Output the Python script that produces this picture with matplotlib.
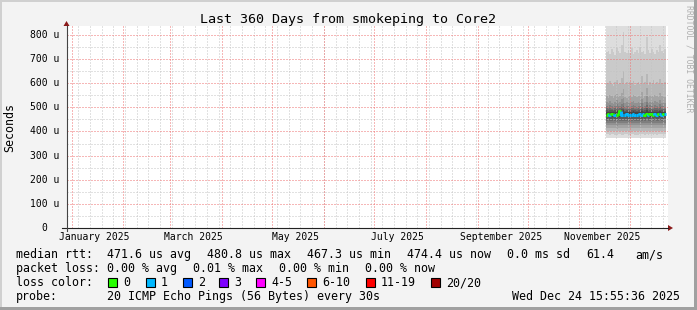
import matplotlib
matplotlib.use("Agg")
import matplotlib.pyplot as plt
import matplotlib.dates as mdates
from matplotlib.patches import Rectangle, Polygon
from matplotlib.lines import Line2D
from datetime import datetime, timedelta
import pandas as pd

plt.rcParams['font.family'] = 'DejaVu Sans Mono'

W, H = 697, 310

# time window of the graph
end = datetime(2025, 12, 24, 15, 55, 36)
start = end - timedelta(days=360)
smoke_start = datetime(2025, 11, 17, 12)

# daily medians (microseconds) and loss class per day
median = [470, 472, 469, 471, 473, 470, 468, 474, 484, 470, 469, 470, 471, 470, 469, 470, 471, 470,
          470, 469, 471, 470, 472, 470, 473, 469, 471, 474, 470, 472, 469, 471, 473, 470, 472, 474]
loss = [0, 0, 1, 0, 0, 1, 0, 0, 0, 1, 1, 1, 1, 1, 1, 1, 1, 1,
        1, 1, 1, 1, 1, 0, 0, 1, 0, 0, 0, 1, 1, 0, 1, 1, 0, 1]

# sorted ping ranks per day (microseconds), ping_1 = fastest, ping_20 = slowest
ping_20 = [905, 930, 898, 950, 912, 887, 940, 921, 899, 960, 975, 915, 903, 938, 909, 926, 890, 944,
           917, 902, 933, 969, 896, 921, 985, 907, 928, 913, 936, 899, 921, 908, 954, 915, 903, 940]
ping_19 = [728, 735, 722, 741, 730, 718, 745, 733, 726, 760, 812, 730, 724, 739, 727, 744, 720, 731,
           736, 725, 748, 729, 733, 721, 790, 738, 727, 742, 731, 719, 736, 728, 760, 733, 724, 740]
ping_18 = [602, 595, 610, 598, 588, 604, 615, 597, 600, 620, 650, 596, 603, 592, 606, 599, 611, 594,
           601, 607, 598, 630, 596, 604, 640, 593, 605, 600, 612, 597, 603, 595, 618, 601, 599, 606]
ping_17 = [548, 540, 552, 545, 538, 550, 556, 542, 547, 560, 575, 544, 539, 551, 546, 541, 553, 548,
           543, 549, 545, 565, 540, 547, 580, 544, 550, 546, 541, 553, 547, 542, 558, 545, 549, 544]
ping_16 = [522, 518, 526, 520, 515, 524, 530, 519, 521, 533, 540, 517, 522, 525, 519, 521, 527, 520,
           518, 523, 520, 535, 516, 522, 545, 519, 524, 521, 517, 526, 522, 518, 531, 520, 523, 519]
ping_15 = [506, 503, 509, 505, 500, 507, 512, 504, 506, 514, 520, 502, 505, 508, 503, 506, 510, 504,
           503, 507, 505, 516, 501, 506, 522, 503, 508, 505, 502, 509, 506, 503, 513, 505, 507, 503]
ping_14 = [496, 494, 498, 495, 491, 497, 500, 494, 496, 502, 506, 493, 495, 497, 494, 496, 499, 495,
           493, 497, 495, 503, 492, 496, 508, 494, 497, 495, 493, 498, 496, 494, 501, 495, 497, 494]
ping_13 = [488, 486, 489, 487, 484, 488, 491, 486, 490, 492, 495, 485, 487, 488, 486, 487, 490, 487,
           485, 488, 487, 493, 484, 488, 497, 486, 488, 487, 485, 489, 487, 486, 491, 487, 488, 486]
ping_12 = [481, 480, 482, 481, 479, 482, 484, 480, 485, 485, 487, 479, 481, 482, 480, 481, 483, 481,
           480, 482, 481, 485, 479, 482, 488, 480, 482, 481, 480, 482, 481, 480, 484, 481, 482, 480]
ping_11 = [474, 476, 473, 475, 477, 474, 472, 478, 478, 474, 473, 474, 475, 474, 473, 474, 475, 474,
           474, 473, 475, 474, 476, 474, 477, 473, 475, 478, 474, 476, 473, 475, 477, 474, 476, 478]
ping_10 = [467, 469, 466, 468, 470, 467, 465, 471, 470, 467, 466, 467, 468, 467, 466, 467, 468, 467,
           467, 466, 468, 467, 469, 467, 470, 466, 468, 471, 467, 469, 466, 468, 470, 467, 469, 471]
ping_9 = [461, 462, 460, 461, 463, 460, 459, 463, 461, 461, 460, 461, 461, 460, 460, 461, 462, 461,
          460, 460, 461, 461, 462, 461, 462, 460, 461, 463, 461, 462, 460, 461, 462, 461, 462, 463]
ping_8 = [453, 454, 452, 453, 454, 452, 451, 455, 453, 452, 452, 453, 453, 452, 452, 453, 453, 452,
          452, 452, 453, 453, 454, 452, 454, 452, 453, 455, 452, 454, 452, 453, 454, 453, 453, 455]
ping_7 = [445, 446, 444, 445, 447, 444, 443, 447, 445, 445, 444, 445, 445, 444, 444, 445, 446, 445,
          444, 444, 445, 445, 446, 445, 446, 444, 445, 447, 445, 446, 444, 445, 446, 445, 446, 447]
ping_6 = [436, 437, 435, 436, 437, 435, 434, 437, 436, 435, 435, 436, 436, 435, 435, 436, 436, 435,
          435, 435, 436, 436, 437, 435, 437, 435, 436, 437, 435, 437, 435, 436, 437, 436, 436, 437]
ping_5 = [426, 427, 425, 426, 427, 425, 424, 427, 426, 425, 425, 426, 426, 425, 425, 426, 426, 425,
          425, 425, 426, 426, 427, 425, 427, 425, 426, 427, 425, 427, 425, 426, 427, 426, 426, 427]
ping_4 = [414, 415, 413, 414, 415, 413, 412, 415, 414, 413, 413, 414, 414, 413, 413, 414, 414, 413,
          413, 413, 414, 414, 415, 413, 415, 413, 414, 415, 413, 415, 413, 414, 415, 414, 414, 415]
ping_3 = [402, 403, 401, 402, 403, 401, 400, 403, 402, 401, 401, 402, 402, 401, 401, 402, 402, 401,
          401, 401, 402, 402, 403, 401, 403, 401, 402, 403, 401, 403, 401, 402, 403, 402, 402, 403]
ping_2 = [388, 389, 387, 388, 389, 387, 386, 389, 388, 387, 387, 388, 388, 387, 387, 388, 388, 387,
          387, 387, 388, 388, 389, 387, 389, 387, 388, 389, 387, 389, 387, 388, 389, 388, 388, 389]
ping_1 = [374, 373, 374, 373, 374, 373, 373, 374, 373, 373, 374, 373, 373, 374, 373, 373, 374, 373,
          373, 374, 373, 373, 374, 373, 373, 374, 373, 373, 374, 373, 373, 374, 373, 373, 374, 373]

ranks = [ping_1, ping_2, ping_3, ping_4, ping_5, ping_6, ping_7, ping_8, ping_9, ping_10,
         ping_11, ping_12, ping_13, ping_14, ping_15, ping_16, ping_17, ping_18, ping_19, ping_20]

y_ticks = [0, 100, 200, 300, 400, 500, 600, 700, 800]
y_labels = ['0', '100 u', '200 u', '300 u', '400 u', '500 u', '600 u', '700 u', '800 u']
month_labels = ['January 2025', 'March 2025', 'May 2025', 'July 2025', 'September 2025', 'November 2025']
month_dates = [datetime(2025, m, 1) for m in (1, 3, 5, 7, 9, 11)]

loss_names = ['0', '1', '2', '3', '4-5', '6-10', '11-19', '20/20']
loss_colors = ['#26ff00', '#00b8ff', '#0059ff', '#7e00ff', '#ff00ff', '#ff5500', '#ff0000', '#a10000']


def fx(x):
    return x / W


def fy(y):
    return 1 - y / H


fig = plt.figure(figsize=(W / 100, H / 100), dpi=100, facecolor='#f3f3f3')

# 3d-ish border
fig.add_artist(Rectangle((0, fy(2)), 1, 2 / H, transform=fig.transFigure, color='#d0d0d0', lw=0))
fig.add_artist(Rectangle((0, 0), 2 / W, 1, transform=fig.transFigure, color='#d0d0d0', lw=0))
fig.add_artist(Rectangle((0, 0), 1, 3 / H, transform=fig.transFigure, color='#a0a0a0', lw=0))
fig.add_artist(Rectangle((fx(694), 0), 3 / W, 1, transform=fig.transFigure, color='#a0a0a0', lw=0))

ax = fig.add_axes([fx(66.5), fy(228), (668 - 66.5) / W, (228 - 26) / H])
ax.set_facecolor('white')
ax.set_xlim(mdates.date2num(start), mdates.date2num(end))
ax.set_ylim(0, 837)
ax.set_xticks([])
ax.set_yticks([])
for s in ax.spines.values():
    s.set_visible(False)

# smoke: stacked ping ranks, outermost lightest
edges = mdates.date2num([smoke_start + timedelta(days=i) for i in range(len(median) + 1)])
for layer in range(10):
    g = (int(190 / 10 * (9 - layer)) + 50) / 255
    ax.stairs(ranks[19 - layer], edges, baseline=ranks[layer], fill=True,
              color=(g, g, g), lw=0, zorder=1)

# grid (dotted)
dots = (0, (1, 2))
minor_c, major_c = '#c4c4c4', '#ee7070'
for v in range(50, 837, 50):
    if v % 100:
        ax.axhline(v, color=minor_c, lw=0.72, ls=dots, zorder=3)
for d in pd.date_range(start, end, freq='W-SUN'):
    ax.axvline(mdates.date2num(d.to_pydatetime()), color=minor_c, lw=0.72, ls=dots, zorder=3)
for v in y_ticks[1:]:
    ax.axhline(v, color=major_c, lw=0.72, ls=dots, zorder=3)
for d in pd.date_range(start, end, freq='MS'):
    ax.axvline(mdates.date2num(d.to_pydatetime()), color=major_c, lw=0.72, ls=dots, zorder=3)

# median line coloured by loss
for i in range(len(median)):
    prev = median[i - 1] if i > 0 else median[i]
    ax.plot([edges[i], edges[i], edges[i + 1]], [prev, median[i], median[i]],
            color=loss_colors[loss[i]], lw=2.2, solid_capstyle='butt', zorder=5)

# tick labels
for v, lab in zip(y_ticks, y_labels):
    off = -7.5 if lab != '0' else -19.2
    ax.annotate(lab, xy=(0, v), xycoords=('axes fraction', 'data'), xytext=(off * 0.72, 0),
                textcoords='offset points', ha='right', va='center', fontsize=7, annotation_clip=False)
for d, lab in zip(month_dates, month_labels):
    ax.annotate(lab, xy=(mdates.date2num(d + timedelta(days=14.5)), 0), xycoords=('data', 'axes fraction'),
                xytext=(0, -12.5 * 0.72), textcoords='offset points', ha='center', va='baseline',
                fontsize=7, annotation_clip=False)

# axes and arrows
fig.add_artist(Line2D([fx(62), fx(668)], [fy(228), fy(228)], color='#222222', lw=0.8))
fig.add_artist(Line2D([fx(66.5), fx(66.5)], [fy(231), fy(26)], color='#444444', lw=0.8))
fig.add_artist(Polygon([[fx(668), fy(225)], [fx(673), fy(228)], [fx(668), fy(231)]],
                       transform=fig.transFigure, color='#8b1a1a', lw=0))
fig.add_artist(Polygon([[fx(63.5), fy(26)], [fx(66.5), fy(21)], [fx(69.5), fy(26)]],
                       transform=fig.transFigure, color='#8b1a1a', lw=0))

fig.text(fx(348), fy(23.5), 'Last 360 Days from smokeping to Core2', ha='center', va='baseline', fontsize=9.6)
fig.text(fx(10), fy(127), 'Seconds', rotation=90, ha='center', va='center', fontsize=8.4)
fig.text(fx(688.5), fy(5), 'RRDTOOL / TOBI OETIKER', rotation=270, ha='center', va='top',
         fontsize=5.9, color='#b0b0b0')

# legend
fs = 8.4
rows = [
    (258.3, [(16, 'median rtt:'), (107, '471.6 us avg'), (207, '480.8 us max'), (307, '467.3 us min'),
             (407, '474.4 us now'), (507, '0.0 ms sd'), (586, '61.4'), (635, 'am/s')]),
    (272.2, [(16, 'packet loss:'), (107, '0.00 % avg'), (193, '0.01 % max'), (279, '0.00 % min'),
             (365, '0.00 % now')]),
    (286.1, [(16, 'loss color:')]),
    (300, [(16, 'probe:'), (107, '20 ICMP Echo Pings (56 Bytes) every 30s')]),
]
for y, items in rows:
    for x, t in items:
        fig.text(fx(x), fy(y), t, ha='left', va='baseline', fontsize=fs)
fig.text(fx(680), fy(300), 'Wed Dec 24 15:55:36 2025', ha='right', va='baseline', fontsize=fs)

box_x = [108.3, 145.7, 182.7, 219.3, 256, 307.3, 365.7, 431]
for bx, name, c in zip(box_x, loss_names, loss_colors):
    fig.add_artist(Rectangle((fx(bx), fy(286.7)), 9 / W, 9 / H, transform=fig.transFigure,
                             facecolor=c, edgecolor='black', lw=0.8))
    fig.text(fx(bx + 15), fy(286.1), name, ha='left', va='baseline', fontsize=fs)

fig.savefig('out.png', dpi=100, facecolor=fig.get_facecolor())
